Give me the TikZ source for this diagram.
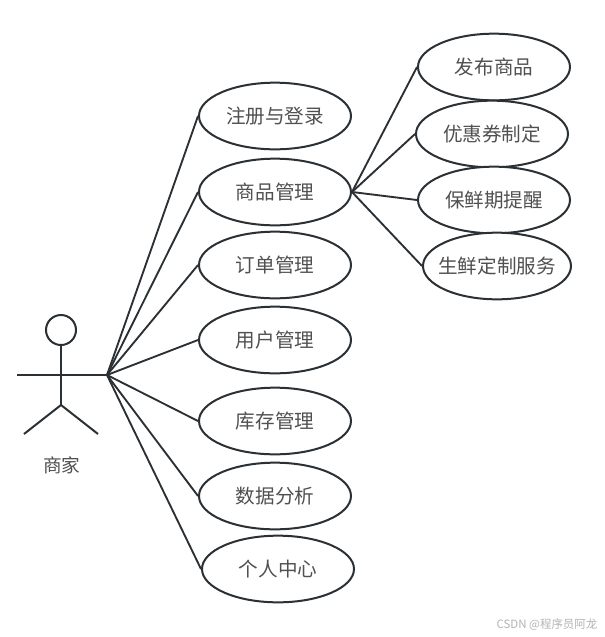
\documentclass[tikz,border=0pt]{standalone}
\usepackage{fontspec}
\setmainfont{Noto Sans CJK SC}
\usetikzlibrary{shapes.geometric}
\definecolor{ink}{HTML}{2B3035}
\definecolor{txt}{HTML}{505050}
\definecolor{mark}{HTML}{B4B4B4}
\tikzset{
  usecase/.style={ellipse,draw=ink,line width=1.5pt,fill=white,inner sep=0pt,minimum width=114pt,minimum height=50pt,text=txt,text height=12.8pt,text depth=1.5pt,font=\fontsize{14.7pt}{17pt}\selectfont},
  link/.style={draw=ink,line width=1.4pt},
  stick/.style={draw=ink,line width=1.5pt},
}
\begin{document}
\begin{tikzpicture}[x=0.75pt,y=-0.75pt]
\useasboundingbox (0,0) rectangle (605,637);
\fill[white] (0,0) rectangle (605,637);
\coordinate (hand) at (107,375);
\coordinate (armL) at (17,375);
\coordinate (hip) at (61,405);
\coordinate (footL) at (24,434);
\coordinate (footR) at (98,434);
\node[usecase] (login) at (275,116) {注册与登录};
\node[usecase] (goods) at (275,192) {商品管理};
\node[usecase] (order) at (275,265) {订单管理};
\node[usecase] (user) at (275,340) {用户管理};
\node[usecase] (stock) at (275,421) {库存管理};
\node[usecase] (data) at (275,496) {数据分析};
\node[usecase] (self) at (278,569) {个人中心};
\node[usecase] (pub) at (494,67) {发布商品};
\node[usecase] (coupon) at (492,134) {优惠券制定};
\node[usecase] (fresh) at (494,200) {保鲜期提醒};
\node[usecase,minimum width=111pt] (custom) at (497,266) {\makebox[0pt]{生鲜定制服务}};
\foreach \t in {login,goods,order,user,stock,data,self}
  \draw[link] (hand) -- (\t.west);
\foreach \t in {pub,coupon,fresh,custom}
  \draw[link] (goods.east) -- (\t.west);
\node[circle,draw=ink,line width=1.5pt,inner sep=0pt,minimum size=22.5pt] (head) at (61,330) {};
\draw[stick] (head.south) -- (hip);
\draw[stick] (armL) -- (hand);
\draw[stick] (footL) -- (hip) -- (footR);
\node[text=txt,font=\fontsize{14pt}{16pt}\selectfont] (actor) at (62,465) {商家};
\node[text=mark,font=\fontsize{8.6pt}{10pt}\selectfont] (wm) at (547,625) {CSDN @程序员阿龙};
\end{tikzpicture}
\end{document}
